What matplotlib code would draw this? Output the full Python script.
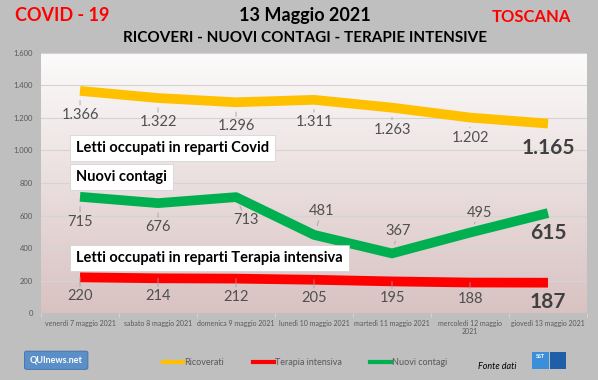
import numpy as np
import matplotlib.pyplot as plt
from matplotlib.patches import FancyBboxPatch, Rectangle

plt.rcParams['font.family'] = ['Lato', 'DejaVu Sans']

# dati
giorni = ['venerdì 7 maggio 2021', 'sabato 8 maggio 2021', 'domenica 9 maggio 2021',
          'lunedì 10 maggio 2021', 'martedì 11 maggio 2021', 'mercoledì 12 maggio\n2021',
          'giovedì 13 maggio 2021']
ricoverati = [1366, 1322, 1296, 1311, 1263, 1202, 1165]
contagi = [715, 676, 713, 481, 367, 495, 615]
terapia = [220, 214, 212, 205, 195, 188, 187]
yticks = [0, 200, 400, 600, 800, 1000, 1200, 1400, 1600]

# offset etichette (pixel)
off_ric = [(0, -24), (0, -24), (0, -24), (0, -22), (0, -22), (0, -20), (0, -24)]
off_con = [(0, -25), (0, -24), (10, -23), (8, 24), (6, 22), (10, 20), (0, -20)]
off_ter = [(0, -19), (0, -18), (0, -18), (0, -18), (0, -17), (0, -16), (0, -19)]

def fmt(v):
    return f'{v:,}'.replace(',', '.')

fig = plt.figure(figsize=(5.98, 3.8), dpi=100)
fig.patch.set_facecolor('#bfbfbf')
ax = fig.add_axes([0.0686, 0.176, 0.913, 0.685])
ax.set_facecolor('white')

x = np.arange(len(giorni))

# sfondo sfumato (bianco in alto, rosato in basso)
grad = np.linspace(0, 1, 256).reshape(-1, 1)
top = np.array([0.99, 0.985, 0.985])
bot = np.array([0.85, 0.76, 0.76])
img = top + (bot - top) * grad[:, :, None]
ax.imshow(img, extent=[-0.5, 6.5, 0, 1600], origin='upper', aspect='auto', zorder=0)
ax.set_xlim(-0.5, 6.5)
ax.set_ylim(0, 1600)

for y in yticks[1:]:
    ax.axhline(y, color='#d4d4d4', lw=0.8, zorder=1)

ax.plot(x, ricoverati, color='#ffc000', lw=7, solid_capstyle='butt', zorder=3)
ax.plot(x, contagi, color='#00b050', lw=7, solid_capstyle='butt', zorder=3)
ax.plot(x, terapia, color='#ff0000', lw=7, solid_capstyle='butt', zorder=3)

def etichette(vals, offs):
    for i, (v, o) in enumerate(zip(vals, offs)):
        last = i == len(vals) - 1
        ax.annotate(fmt(v), (i, v), xytext=o, textcoords='offset pixels',
                    ha='center', va='center',
                    fontsize=15 if last else 10.5,
                    fontweight='bold' if last else 'normal',
                    color='#404040' if last else '#505050', zorder=4,
                    arrowprops=None if last else dict(arrowstyle='-', color='#a0a0a0', lw=0.6,
                                                      shrinkA=0, shrinkB=7))

etichette(ricoverati, off_ric)
etichette(contagi, off_con)
etichette(terapia, off_ter)

box = dict(boxstyle='square,pad=0.4', fc='white', ec='#d0d0d0', lw=0.5)
ax.text(-0.05, 1015, 'Letti occupati in reparti Covid', fontsize=10.5, fontweight='bold',
        va='center', bbox=box, zorder=5)
ax.text(-0.05, 837, 'Nuovi contagi', fontsize=10.5, fontweight='bold', va='center',
        bbox=box, zorder=5)
ax.text(-0.05, 338, 'Letti occupati in reparti Terapia intensiva', fontsize=10.5,
        fontweight='bold', va='center', bbox=box, zorder=5)

ax.set_yticks(yticks)
ax.set_yticklabels([fmt(v) for v in yticks], fontsize=5.5, color='#595959')
ax.set_xticks(x)
ax.set_xticklabels(giorni, fontsize=5, color='#595959')
ax.set_xticks(np.arange(-0.5, 7, 1), minor=True)
ax.tick_params(axis='x', which='major', length=0, pad=5)
ax.tick_params(axis='x', which='minor', length=3, color='#d9d9d9')
ax.tick_params(axis='y', length=0, pad=6)
for s in ax.spines.values():
    s.set_visible(False)

# titoli
fig.text(0.025, 0.958, 'COVID - 19', color='#ff0000', fontsize=13, fontweight='bold', va='center')
fig.text(0.51, 0.958, '13 Maggio 2021', color='black', fontsize=13, fontweight='bold',
         va='center', ha='center')
fig.text(0.51, 0.9, 'RICOVERI - NUOVI CONTAGI - TERAPIE INTENSIVE', color='black', fontsize=11,
         fontweight='bold', va='center', ha='center')
fig.text(0.955, 0.955, 'TOSCANA', color='#ff0000', fontsize=12, fontweight='bold',
         va='center', ha='right')

# legenda
h1, = ax.plot([], [], color='#ffc000', lw=3)
h2, = ax.plot([], [], color='#ff0000', lw=3)
h3, = ax.plot([], [], color='#00b050', lw=3)
fig.legend([h1, h2, h3], ['Ricoverati', 'Terapia intensiva', 'Nuovi contagi'],
           loc='center', bbox_to_anchor=(0.51, 0.045), ncol=3, frameon=False,
           fontsize=6.5, handlelength=2.3, handletextpad=0.1, columnspacing=3.2,
           labelcolor='#595959')

fig.text(0.80, 0.035, 'Fonte dati', fontsize=6.5, style='italic', va='center', ha='left')

# loghi
fig.patches.append(FancyBboxPatch((0.045, 0.032), 0.098, 0.04, boxstyle='round,pad=0.004',
                                  transform=fig.transFigure, fc='#5b8fc7', ec='#3d6ea8', lw=0.6))
fig.text(0.094, 0.052, 'QUInews.net', fontsize=6.5, fontweight='bold', color='white',
         ha='center', va='center')
fig.patches.append(Rectangle((0.89, 0.03), 0.028, 0.045, transform=fig.transFigure,
                             fc='#3a8fd8', ec='none'))
fig.patches.append(Rectangle((0.92, 0.03), 0.026, 0.045, transform=fig.transFigure,
                             fc='#1f5fa8', ec='none'))
fig.text(0.904, 0.062, 'SST', fontsize=4, fontweight='bold', color='white', ha='center', va='center')

fig.savefig('out.png', dpi=100, facecolor=fig.get_facecolor())
